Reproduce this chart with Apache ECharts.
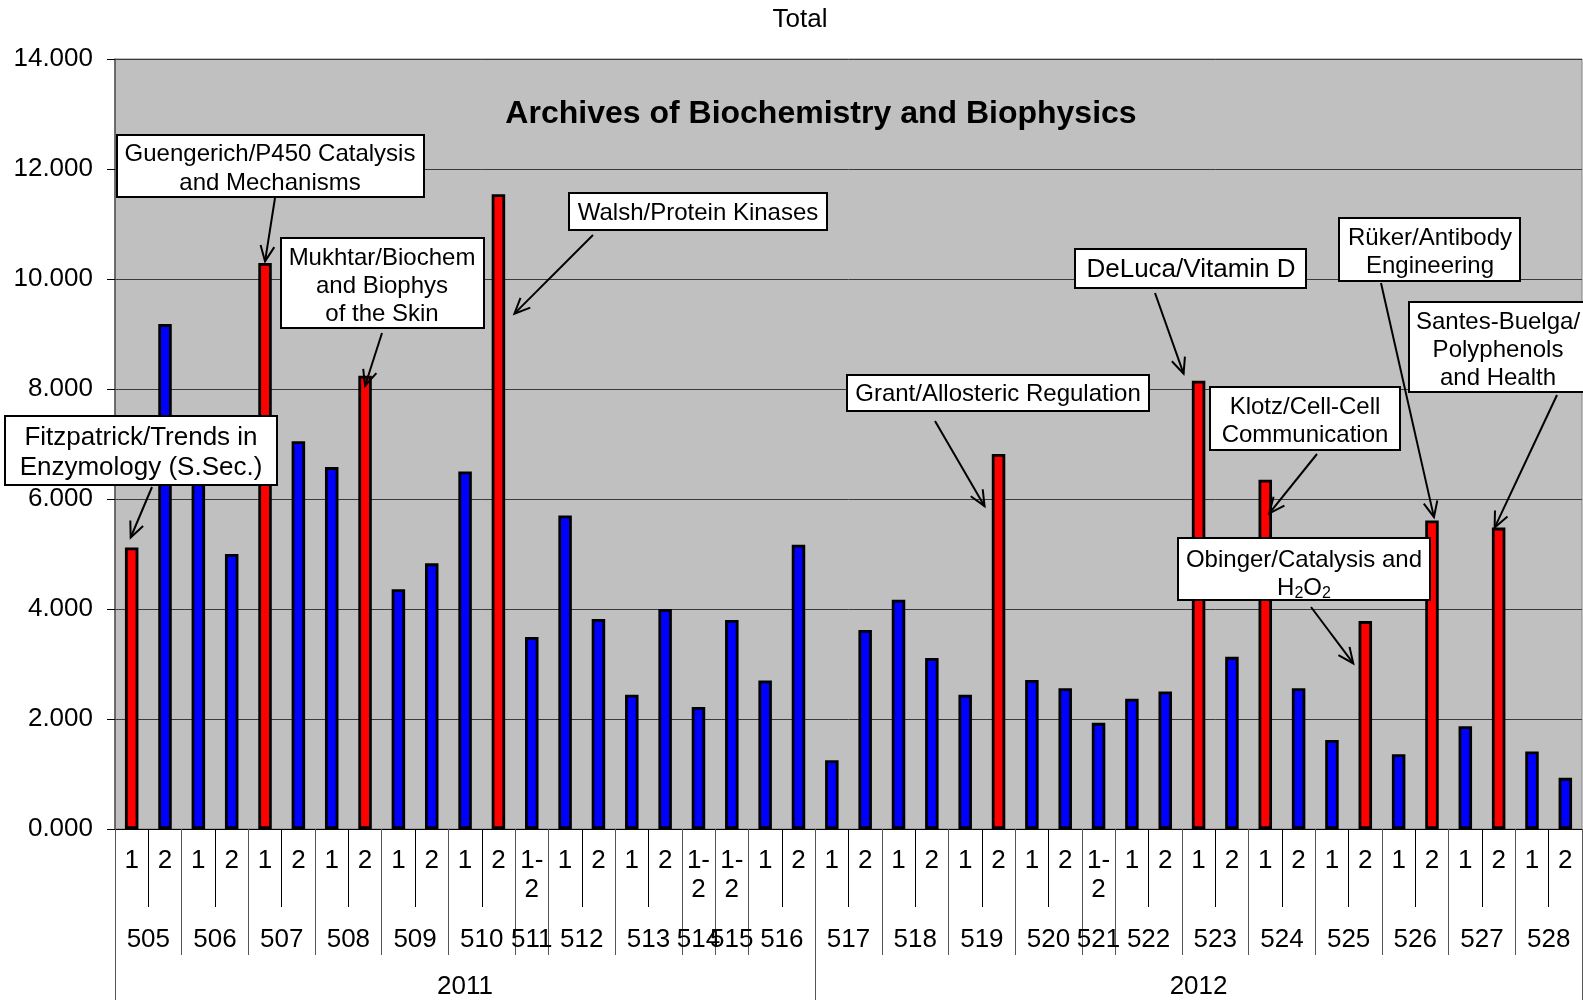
<!DOCTYPE html>
<html><head><meta charset="utf-8">
<script src="https://cdn.jsdelivr.net/npm/echarts@6/dist/echarts.min.js"></script>
<style>html,body{margin:0;padding:0;background:#fff}#c{width:1583px;height:1000px}</style>
</head><body><div id="c"></div>
<script>
// ---- data ----
const issues = ['505','505','506','506','507','507','508','508','509','509','510','510','511','512','512','513','513','514','515','516','516',
                '517','517','518','518','519','519','520','520','521','522','522','523','523','524','524','525','525','526','526','527','527','528','528'];
const parts = ['1','2','1','2','1','2','1','2','1','2','1','2','1-2','1','2','1','2','1-2','1-2','1','2',
               '1','2','1','2','1','2','1','2','1-2','1','2','1','2','1','2','1','2','1','2','1','2','1','2'];
const years = ['2011','2011','2011','2011','2011','2011','2011','2011','2011','2011','2011','2011','2011','2011','2011','2011','2011','2011','2011','2011','2011',
               '2012','2012','2012','2012','2012','2012','2012','2012','2012','2012','2012','2012','2012','2012','2012','2012','2012','2012','2012','2012','2012','2012','2012'];
const values = [5120,9180,6800,5000,10290,7050,6580,8240,4360,4830,6500,11540,3490,5700,3820,2440,4000,2220,3800,2700,5170,
                1250,3620,4170,3110,2440,6820,2710,2560,1930,2370,2500,8150,3130,6350,2560,1620,3780,1360,5610,1870,5480,1410,930];
const special = [1,0,0,0,1,0,0,1,0,0,0,1,0,0,0,0,0,0,0,0,0,
                 0,0,0,0,0,1,0,0,0,0,0,1,0,1,0,0,1,0,1,0,1,0,0];
const yTicks = [0,2000,4000,6000,8000,10000,12000,14000];

// ---- groups for multi-level axis ----
function runs(arr){
  const out=[]; let s=0;
  for(let i=1;i<=arr.length;i++){
    if(i===arr.length||arr[i]!==arr[s]){out.push({label:arr[s],start:s,end:i});s=i;}
  }
  return out;
}
const issueRuns = runs(issues), yearRuns = runs(years);
const issueBounds = [0].concat(issueRuns.map(r=>r.end));
const issueCenters = issueRuns.map(r=>(r.start+r.end)/2);
const issueLabelMap = {}; issueRuns.forEach(r=>{issueLabelMap[String((r.start+r.end)/2)]=r.label;});
const yearBounds = [0].concat(yearRuns.map(r=>r.end));
const yearCenters = yearRuns.map(r=>(r.start+r.end)/2);
const yearLabelMap = {}; yearRuns.forEach(r=>{yearLabelMap[String((r.start+r.end)/2)]=r.label;});

const FONT = '"Liberation Sans", Arial, sans-serif';
const N = values.length;

const chart = echarts.init(document.getElementById('c'), null, {renderer:'canvas'});
chart.setOption({
  animation:false,
  backgroundColor:'#fff',
  grid:{left:115,right:1,top:59,bottom:171,show:true,backgroundColor:'#c0c0c0',borderColor:'#808080',borderWidth:1,
        containLabel:false,outerBoundsMode:'none'},
  xAxis:[
    {type:'category',data:parts,position:'bottom',
     axisLine:{show:true,onZero:false,lineStyle:{color:'#000',width:1}},
     axisTick:{show:true,interval:0,length:78,lineStyle:{color:'#000',width:1}},
     axisLabel:{interval:0,fontSize:26,fontFamily:FONT,color:'#000',margin:17,lineHeight:29,
                formatter:v=>v.replace('-','-\n')},
     splitLine:{show:false}},
    {type:'value',min:0,max:N,position:'bottom',
     axisLine:{show:false,onZero:false},
     axisTick:{show:true,customValues:issueBounds,length:126,lineStyle:{color:'#555',width:1}},
     axisLabel:{show:true,customValues:issueCenters,fontSize:26,fontFamily:FONT,color:'#000',margin:98,lineHeight:26,
                formatter:v=>issueLabelMap[String(v)]||''},
     splitLine:{show:false}},
    {type:'value',min:0,max:N,position:'bottom',
     axisLine:{show:false,onZero:false},
     axisTick:{show:true,customValues:yearBounds,length:172,lineStyle:{color:'#555',width:1}},
     axisLabel:{show:true,customValues:yearCenters,fontSize:26,fontFamily:FONT,color:'#000',margin:145,lineHeight:26,
                formatter:v=>yearLabelMap[String(v)]||''},
     splitLine:{show:false}}
  ],
  yAxis:{type:'value',min:yTicks[0],max:yTicks[yTicks.length-1],interval:2000,
     axisLine:{show:true,onZero:false,lineStyle:{color:'#555',width:1.5}},
     axisTick:{show:true,length:8,lineStyle:{color:'#000'}},
     axisLabel:{fontSize:26,fontFamily:FONT,color:'#000',margin:22,
                formatter:v=>(v/1000).toFixed(3)},
     splitLine:{show:true,lineStyle:{color:'#3a3a3a',width:1}}},
  series:[{type:'bar',xAxisIndex:0,yAxisIndex:0,barWidth:13.5,
     data:values.map((v,i)=>({value:v,itemStyle:{color:special[i]?'#ff0000':'#0000ff',borderColor:'#000',borderWidth:2.8}})),
     z:2}]
});

// ---- annotations ----
const notes = [
 {text:'Fitzpatrick/Trends in\nEnzymology (S.Sec.)', box:[5,416,272,69], tx:141, ty:453, fs:26, lh:30, from:[152,487], cat:0, val:5300, dx:-1},
 {text:'Guengerich/P450 Catalysis\nand Mechanisms', box:[117,135,307,62], tx:270, ty:169, fs:24, lh:29, from:[275,198], cat:4, val:10320, dx:0},
 {text:'Mukhtar/Biochem\nand Biophys\nof the Skin', box:[281,238,203,90], tx:382, ty:286, fs:24, lh:28, from:[382,333], cat:7, val:8060, dx:0},
 {text:'Walsh/Protein Kinases', box:[569,193,258,37], tx:698, ty:213, fs:24, lh:28, from:[593,235], cat:11, val:9370, dx:16},
 {text:'Grant/Allosteric Regulation', box:[847,375,302,36], tx:998, ty:394, fs:24, lh:28, from:[935,421], cat:26, val:5870, dx:-14},
 {text:'DeLuca/Vitamin D', box:[1075,249,231,39], tx:1191, ty:270, fs:26, lh:30, from:[1155,293], cat:32, val:8280, dx:-15},
 {text:'Rüker/Antibody\nEngineering', box:[1339,218,181,63], tx:1430, ty:252, fs:24, lh:28, from:[1381,283], cat:39, val:5670, dx:2},
 {text:'Santes-Buelga/\nPolyphenols\nand Health', box:[1409,302,180,90], tx:1498, ty:350, fs:24, lh:28, from:[1557,395], cat:41, val:5480, dx:-4},
 {text:'Klotz/Cell-Cell\nCommunication', box:[1210,387,190,63], tx:1305, ty:421, fs:24, lh:28, from:[1317,454], cat:34, val:5740, dx:4},
 {text:'{n|Obinger/Catalysis and}\n{n|H}{s|2}{n|O}{s|2}', rich:true, box:[1178,538,252,62], tx:1304, ty:574, fs:24, lh:28, from:[1311,607], cat:37, val:3010, dx:-12}
];

function arrow(x0,y0,x1,y1){
  const a=Math.atan2(y1-y0,x1-x0), L=17, w=0.42;
  const p1=[x1-L*Math.cos(a-w), y1-L*Math.sin(a-w)];
  const p2=[x1-L*Math.cos(a+w), y1-L*Math.sin(a+w)];
  return [
    {type:'line',shape:{x1:x0,y1:y0,x2:x1,y2:y1},style:{stroke:'#000',lineWidth:2},z:20},
    {type:'polyline',shape:{points:[p1,[x1,y1],p2]},style:{stroke:'#000',lineWidth:2,fill:null},z:20}
  ];
}

const g = [
  {type:'text',x:800,y:20,style:{text:'Total',font:'26px '+FONT,fill:'#000',align:'center',verticalAlign:'middle'},z:20},
  {type:'text',x:821,y:114,style:{text:'Archives of Biochemistry and Biophysics',font:'bold 32px '+FONT,fill:'#000',align:'center',verticalAlign:'middle'},z:20}
];
notes.forEach(n=>{
  const p = chart.convertToPixel({seriesIndex:0},[n.cat,n.val]);
  g.push({type:'rect',shape:{x:n.box[0],y:n.box[1],width:n.box[2],height:n.box[3]},style:{fill:'#fff',stroke:'#000',lineWidth:2},z:18});
  const st = {text:n.text,font:n.fs+'px '+FONT,fill:'#000',align:'center',verticalAlign:'middle',lineHeight:n.lh};
  if(n.rich){
    st.rich = {n:{fontSize:24,fontFamily:FONT,lineHeight:28,fill:'#000'},
               s:{fontSize:16,fontFamily:FONT,lineHeight:16,verticalAlign:'bottom',fill:'#000'}};
  }
  g.push({type:'text',x:n.tx,y:n.ty,style:st,z:19});
  arrow(n.from[0],n.from[1],p[0]+n.dx,p[1]).forEach(e=>g.push(e));
});
chart.setOption({graphic:g});
</script>
</body></html>
